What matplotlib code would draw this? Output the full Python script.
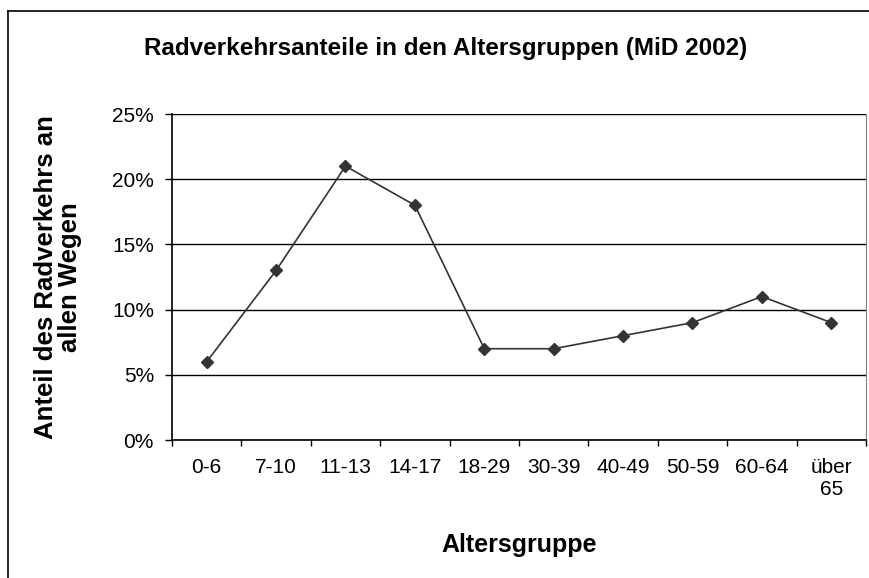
import matplotlib.pyplot as plt
from matplotlib.lines import Line2D
from matplotlib.ticker import FuncFormatter

plt.rcParams['font.family'] = ['Liberation Sans', 'DejaVu Sans']

# Daten
altersgruppen = ['0-6', '7-10', '11-13', '14-17', '18-29', '30-39',
                 '40-49', '50-59', '60-64', 'über\n65']
anteile = [6, 13, 21, 18, 7, 7, 8, 9, 11, 9]
y_ticks = [0, 5, 10, 15, 20, 25]

W, H = 870, 578
fig = plt.figure(figsize=(W / 100, H / 100), dpi=100)
ax = fig.add_axes([172 / W, 1 - 440 / H, (866 - 172) / W, (440 - 114) / H])

x = list(range(len(altersgruppen)))
ax.plot(x, anteile, color='#333333', linewidth=1.2, marker='D',
        markersize=6.5, markerfacecolor='#333333', markeredgecolor='#333333')

ax.set_xlim(-0.5, len(altersgruppen) - 0.5)
ax.set_ylim(0, 25)
ax.set_yticks(y_ticks)
ax.yaxis.set_major_formatter(FuncFormatter(lambda v, p: f'{v:.0f}%'))
ax.set_xticks(x)
ax.set_xticklabels(altersgruppen, fontsize=15, linespacing=1.2)
ax.set_xticks([i - 0.5 for i in range(len(altersgruppen) + 1)], minor=True)
ax.tick_params(axis='x', which='major', length=0, pad=13)
ax.tick_params(axis='x', which='minor', length=4, width=1, color='black')
ax.tick_params(axis='y', length=5, width=1, labelsize=15, pad=8)

ax.grid(axis='y', color='black', linewidth=1)
ax.set_axisbelow(True)
ax.spines['top'].set_visible(False)
ax.spines['right'].set_color('#808080')
ax.spines['left'].set_linewidth(1.2)
ax.spines['bottom'].set_linewidth(1.2)

# Titel und Achsenbeschriftungen
fig.text(446 / W, 1 - 48 / H, 'Radverkehrsanteile in den Altersgruppen (MiD 2002)',
         ha='center', va='center', fontsize=17.5, fontweight='bold')
fig.text(519 / W, 1 - 545 / H, 'Altersgruppe', ha='center', va='center',
         fontsize=18, fontweight='bold')
fig.text(58 / W, 1 - 277 / H, 'Anteil des Radverkehrs an\nallen Wegen',
         ha='center', va='center', rotation=90, fontsize=18.5,
         fontweight='bold', linespacing=1.0)

# Rahmen des Diagrammbereichs
fig.add_artist(Line2D([8 / W, 8 / W], [0, 1 - 11 / H], color='black',
                      linewidth=1.2, transform=fig.transFigure))
fig.add_artist(Line2D([8 / W, 1], [1 - 11 / H, 1 - 11 / H], color='black',
                      linewidth=1.2, transform=fig.transFigure))

fig.savefig('out.png', dpi=100)
